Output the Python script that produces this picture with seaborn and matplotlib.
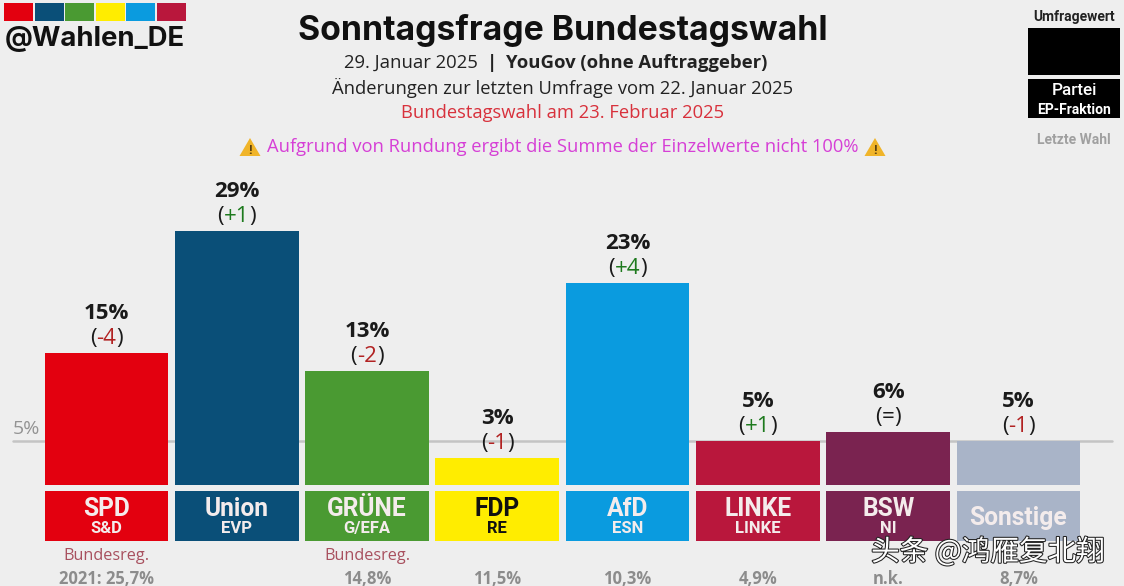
#!/usr/bin/env python3
"""Sonntagsfrage Bundestagswahl bar chart, YouGov 29 Jan 2025."""

import matplotlib.patheffects as pe
import matplotlib.pyplot as plt
import pandas as pd
import seaborn as sns
from matplotlib.patches import Polygon, Rectangle

parties = ["SPD", "Union", "GRÜNE", "FDP", "AfD", "LINKE", "BSW", "Sonstige"]
groups = ["S&D", "EVP", "G/EFA", "RE", "ESN", "LINKE", "NI", ""]
values = [15, 29, 13, 3, 23, 5, 6, 5]
changes = ["-4", "+1", "-2", "-1", "+4", "+1", "=", "-1"]
last_vote = ["2021: 25,7%", "", "14,8%", "11,5%", "10,3%", "4,9%", "n.k.", "8,7%"]
government = ["Bundesreg.", "", "Bundesreg.", "", "", "", "", ""]
colors = ["#E3000F", "#0A4F78", "#4A9A32", "#FFED00", "#0A9BDF", "#B9173C", "#7A2350", "#A9B4C8"]

W, H = 1124, 586
BG = "#EEEEEE"
SANS = "Open Sans"

sns.set_theme(style="white")
plt.rcParams["font.family"] = [SANS, "DejaVu Sans"]

fig = plt.figure(figsize=(W / 100, H / 100), dpi=100, facecolor=BG)
renderer = fig.canvas.get_renderer()

# bars: x from 41 to 1084 px, baseline at 484.5 px, 8.74 px per percent
ax = fig.add_axes([41.3 / W, (H - 484.5) / H, 1042.3 / W, 440 / H])
ax.set_facecolor("none")
ax.axis("off")

frame = pd.DataFrame({"party": parties, "value": values})
ax.axhline(
    5,
    xmin=(13 - 41.3) / 1042.3,
    xmax=(1112 - 41.3) / 1042.3,
    color="#C4C4C4",
    lw=1.8,
    clip_on=False,
    zorder=0,
)
sns.barplot(
    data=frame,
    x="party",
    y="value",
    hue="party",
    order=parties,
    palette=colors,
    width=0.95,
    saturation=1,
    legend=False,
    edgecolor="none",
    linewidth=0,
    ax=ax,
    zorder=2,
)
ax.set_xlim(-0.5, 7.5)
ax.set_ylim(0, 440 / 8.74)


def put(x, y, text, **kwargs):
    """Text at pixel position, y counted from the top."""
    kwargs.setdefault("ha", "center")
    kwargs.setdefault("va", "center")
    return fig.text(x / W, 1 - (y + 1.5) / H, text, **kwargs)


def put_runs(cx, y, runs, gap=0, **kwargs):
    """Several differently styled pieces on one line, centred on cx."""
    items = [put(0, y, txt, ha="left", **{**kwargs, **style}) for txt, style in runs]
    widths = [t.get_window_extent(renderer).width for t in items]
    x = cx - (sum(widths) + gap * (len(items) - 1)) / 2
    for item, width in zip(items, widths):
        item.set_x(x / W)
        x += width + gap


def warning_sign(cx):
    tri = [((cx - 10.5) / W, 1 - 156 / H), ((cx + 10.5) / W, 1 - 156 / H), (cx / W, 1 - 138 / H)]
    fig.add_artist(Polygon(tri, closed=True, facecolor="#F0B429", edgecolor="none"))
    put(cx, 149.5, "!", fontsize=9, fontweight="bold", color="#5A4010")


def center_px(i):
    return 41.3 + (i + 0.5) * 1042.3 / 8


for i, party in enumerate(parties):
    cx = center_px(i)
    top = 484.5 - values[i] * 8.74
    put(cx, top - 41, f"{values[i]}%", fontsize=16, fontweight="bold", color="#1A1A1A")
    change = changes[i]
    tone = {"+": "#1E7A1E", "-": "#B22222", "=": "#1A1A1A"}[change[0]]
    put_runs(
        cx,
        top - 16,
        [("(", {}), (change, {"color": tone}), (")", {})],
        gap=0,
        fontsize=16,
        color="#1A1A1A",
    )

    # party tile below the bar
    ax.add_patch(
        Rectangle((i - 0.475, -6.46), 0.95, 5.72, facecolor=colors[i], edgecolor="none", clip_on=False)
    )
    ink = "#111111" if party == "FDP" else "#F4ECEC"
    if groups[i]:
        put(cx, 507, party, fontsize=17.7, fontweight="bold", color=ink, family="Roboto")
        put(cx, 527, groups[i], fontsize=12, fontweight="bold", color=ink, family="Roboto")
    else:
        put(cx, 516, party, fontsize=17.7, fontweight="bold", color=ink, family="Roboto")

    if government[i]:
        put(cx, 555, government[i], fontsize=11.7, color="#A8505E")
    if last_vote[i]:
        put(cx, 577, last_vote[i], fontsize=12, fontweight="bold", color="#8C8C8C")

put(26, 427, "5%", fontsize=14, color="#939393")

# logo block
logo_left = [4, 35, 65, 96, 126, 157]
for left, color in zip(logo_left, colors[:6]):
    fig.add_artist(Rectangle((left / W, 1 - 21 / H), 29 / W, 18 / H, facecolor=color, edgecolor="none"))
put(5, 37, "@Wahlen_DE", ha="left", fontsize=19.8, fontweight="bold", color="#111111", family="Inter")

# header
put(562.5, 29, "Sonntagsfrage Bundestagswahl", fontsize=24.3, fontweight="bold", color="#111111", family="Inter")
put_runs(
    556,
    61.5,
    [
        ("29. Januar 2025", {}),
        ("|", {"fontweight": "bold"}),
        ("YouGov (ohne Auftraggeber)", {"fontweight": "bold"}),
    ],
    gap=9,
    fontsize=13.3,
    color="#222222",
)
put(562.5, 86, "Änderungen zur letzten Umfrage vom 22. Januar 2025", fontsize=13.25, color="#222222")
put(562.5, 111, "Bundestagswahl am 23. Februar 2025", fontsize=13.25, color="#D8313C")
put(562.5, 145, "Aufgrund von Rundung ergibt die Summe der Einzelwerte nicht 100%", fontsize=13.2, color="#D63FD6")
warning_sign(250)
warning_sign(875)

# legend key, top right
fig.add_artist(Rectangle((1028 / W, 1 - 75 / H), 92 / W, 47 / H, facecolor="black", edgecolor="none"))
fig.add_artist(Rectangle((1028 / W, 1 - 118 / H), 92 / W, 39 / H, facecolor="black", edgecolor="none"))
put(1074, 15, "Umfragewert", fontsize=10, fontweight="bold", color="#222222", family="Roboto")
put(1074, 89, "Partei", fontsize=12.3, fontweight="medium", color="white", family="Roboto")
put(1074, 108, "EP-Fraktion", fontsize=10, fontweight="bold", color="white", family="Roboto")
put(1074, 139, "Letzte Wahl", fontsize=10, fontweight="bold", color="#A0A0A0", family="Roboto")

# watermark
put(
    988,
    551,
    "头条 @鸿雁复北翔",
    fontsize=20.6,
    color="white",
    family="Noto Sans CJK SC",
    path_effects=[pe.withStroke(linewidth=1.5, foreground="#222222")],
)

fig.savefig("out.png", dpi=100, facecolor=BG)
